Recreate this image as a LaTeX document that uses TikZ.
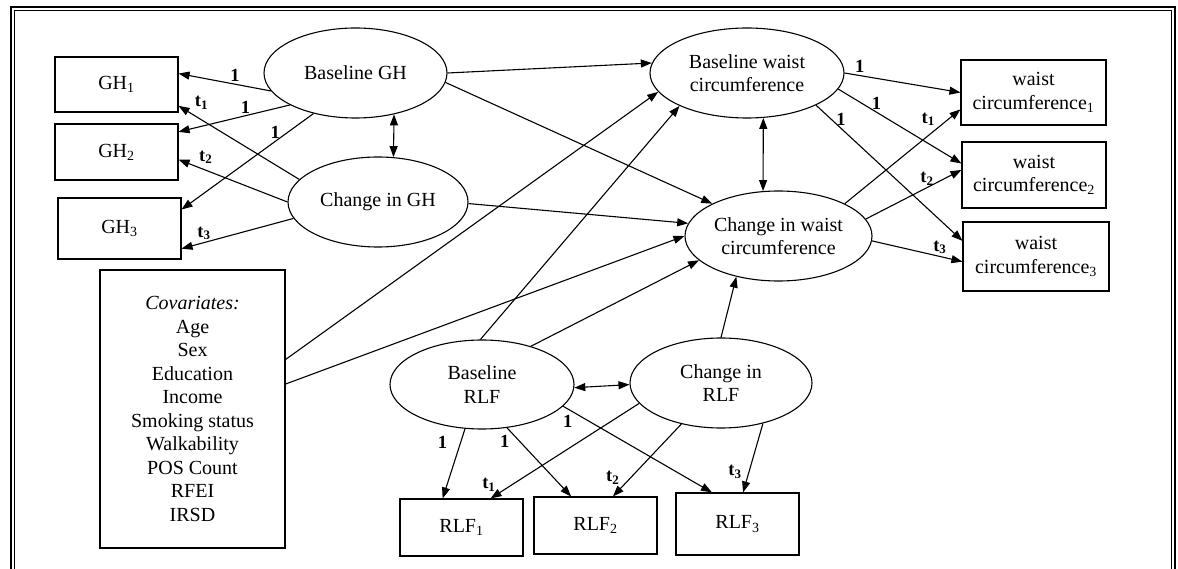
\documentclass[tikz,border=0pt]{standalone}
\usepackage{fontspec}
\setmainfont{Liberation Serif}
\usetikzlibrary{arrows.meta,shapes.geometric}

\begin{document}
\begin{tikzpicture}[x=1pt,y=-1pt,
    every node/.style={font=\fontsize{20}{23.5}\selectfont},
    latent/.style={ellipse,draw,line width=1.1pt,inner sep=0pt,align=center},
    obs/.style={rectangle,draw,line width=1.1pt,inner sep=0pt,align=center},
    regr/.style={line width=1.1pt,-{Triangle[length=11pt,width=8pt]}},
    twoway/.style={line width=1.1pt,{Triangle[length=11pt,width=8pt]}-{Triangle[length=11pt,width=8pt]}},
    lab/.style={font=\fontsize{18.5}{18.5}\selectfont\bfseries,inner sep=2pt}]
    \useasboundingbox (0,0) rectangle (1178,569);
    \draw[line width=2pt] (10.5,572) |- (1175,7) -- (1175,572);
    \draw[line width=1pt] (14,572) |- (1171,10.5) -- (1171,572);

    \node[obs, minimum width=123pt, minimum height=55pt] (gh1) at (116.5,84.5) {GH\textsubscript{1}};
    \node[obs, minimum width=123pt, minimum height=56pt] (gh2) at (116.5,152) {GH\textsubscript{2}};
    \node[obs, minimum width=123pt, minimum height=61pt] (gh3) at (119.5,228.5) {GH\textsubscript{3}};
    \node[obs, minimum width=185pt, minimum height=278pt] (cov) at (192.5,409) {\itshape Covariates:\\Age\\Sex\\Education\\Income\\Smoking status\\Walkability\\POS Count\\RFEI\\IRSD};
    \node[latent, minimum width=183pt, minimum height=90pt] (bgh) at (355.5,73) {Baseline GH};
    \node[latent, minimum width=180pt, minimum height=90pt] (cgh) at (378,202) {Change in GH};
    \node[latent, minimum width=194pt, minimum height=90pt] (bwc) at (747,73) {Baseline waist\\circumference};
    \node[latent, minimum width=187pt, minimum height=90pt] (cwc) at (778.5,236) {Change in waist\\circumference};
    \node[obs, minimum width=145pt, minimum height=65pt] (wc1) at (1033.5,92.5) {waist\\circumference\textsubscript{1}};
    \node[obs, minimum width=144pt, minimum height=66pt] (wc2) at (1034,175) {waist\\circumference\textsubscript{2}};
    \node[obs, minimum width=146pt, minimum height=69pt] (wc3) at (1036,256.5) {waist\\circumference\textsubscript{3}};
    \node[latent, minimum width=184pt, minimum height=89pt] (brlf) at (482,384.5) {Baseline\\RLF};
    \node[latent, minimum width=182pt, minimum height=90pt] (crlf) at (721,383) {Change in\\RLF};
    \node[obs, minimum width=123pt, minimum height=57pt] (rlf1) at (461.5,527.5) {RLF\textsubscript{1}};
    \node[obs, minimum width=123pt, minimum height=57pt] (rlf2) at (595.5,525.5) {RLF\textsubscript{2}};
    \node[obs, minimum width=123pt, minimum height=62pt] (rlf3) at (737.5,524) {RLF\textsubscript{3}};

    \draw[regr] (bgh.192) -- node[lab,pos=0.39,above] {1} (gh1.10);
    \draw[regr] (bgh.206.4) -- node[lab,pos=0.4,above] {1} (gh2.18);
    \draw[regr] (bgh.224.3) -- node[lab,pos=0.29,above] {1} (gh3.17);
    \draw[regr] (cgh.164) -- node[lab,pos=0.81,above=8pt] {t\textsubscript{1}} (gh1.-19);
    \draw[regr] (cgh.180) -- node[lab,pos=0.75,above=4pt] {t\textsubscript{2}} (gh2.-7);
    \draw[regr] (cgh.191) -- node[lab,pos=0.8,above] {t\textsubscript{3}} (gh3.-18);
    \draw[twoway] (bgh.-47.5) -- (cgh.71.3);

    \draw[regr] (bgh.east) -- (bwc.174);
    \draw[regr] (bgh.-6.5) -- (cwc.154);
    \draw[regr] (cgh.-1) -- (cwc.172);
    \draw[regr] (cov.28) -- (bwc.192);
    \draw[regr] (cov.15.7) -- (cwc.180);
    \draw[regr] (brlf.92.6) -- (bwc.206);
    \draw[regr] (brlf.38) -- (cwc.197);
    \draw[regr] (crlf.north) -- (cwc.224);
    \draw[twoway] (brlf.-2) -- (crlf.181.5);

    \draw[regr] (brlf.249) -- node[lab,pos=0.19,left=11pt] {1} (rlf1.123);
    \draw[regr] (brlf.-60) -- node[lab,pos=0.2,left=8pt] {1} (rlf2.130);
    \draw[regr] (brlf.-15.6) -- node[lab,pos=0.08,below left] {1} (rlf3.129.4);
    \draw[regr] (crlf.194) -- node[lab,pos=0.95,above left] {t\textsubscript{1}} (rlf1.45);
    \draw[regr] (crlf.226) -- node[lab,pos=0.87,above left] {t\textsubscript{2}} (rlf2.59);
    \draw[regr] (crlf.-44) -- node[lab,pos=0.7,left=5pt] {t\textsubscript{3}} (rlf3.80.4);

    \draw[regr] (bwc.east) -- node[lab,pos=0.13,above] {1} (wc1.180);
    \draw[regr] (bwc.-10.7) -- node[lab,pos=0.31,above] {1} (wc2.171);
    \draw[regr] (bwc.-25) -- node[lab,pos=0.17,above] {1} (wc3.168);
    \draw[regr] (cwc.26) -- node[lab,pos=0.8,above left] {t\textsubscript{1}} (wc1.193.5);
    \draw[regr] (cwc.11.5) -- node[lab,pos=0.64,above] {t\textsubscript{2}} (wc2.176);
    \draw[regr] (cwc.-3.5) -- node[lab,pos=0.75,above] {t\textsubscript{3}} (wc3.184);
    \draw[twoway] (bwc.-70.2) -- (cwc.109.2);
\end{tikzpicture}
\end{document}
